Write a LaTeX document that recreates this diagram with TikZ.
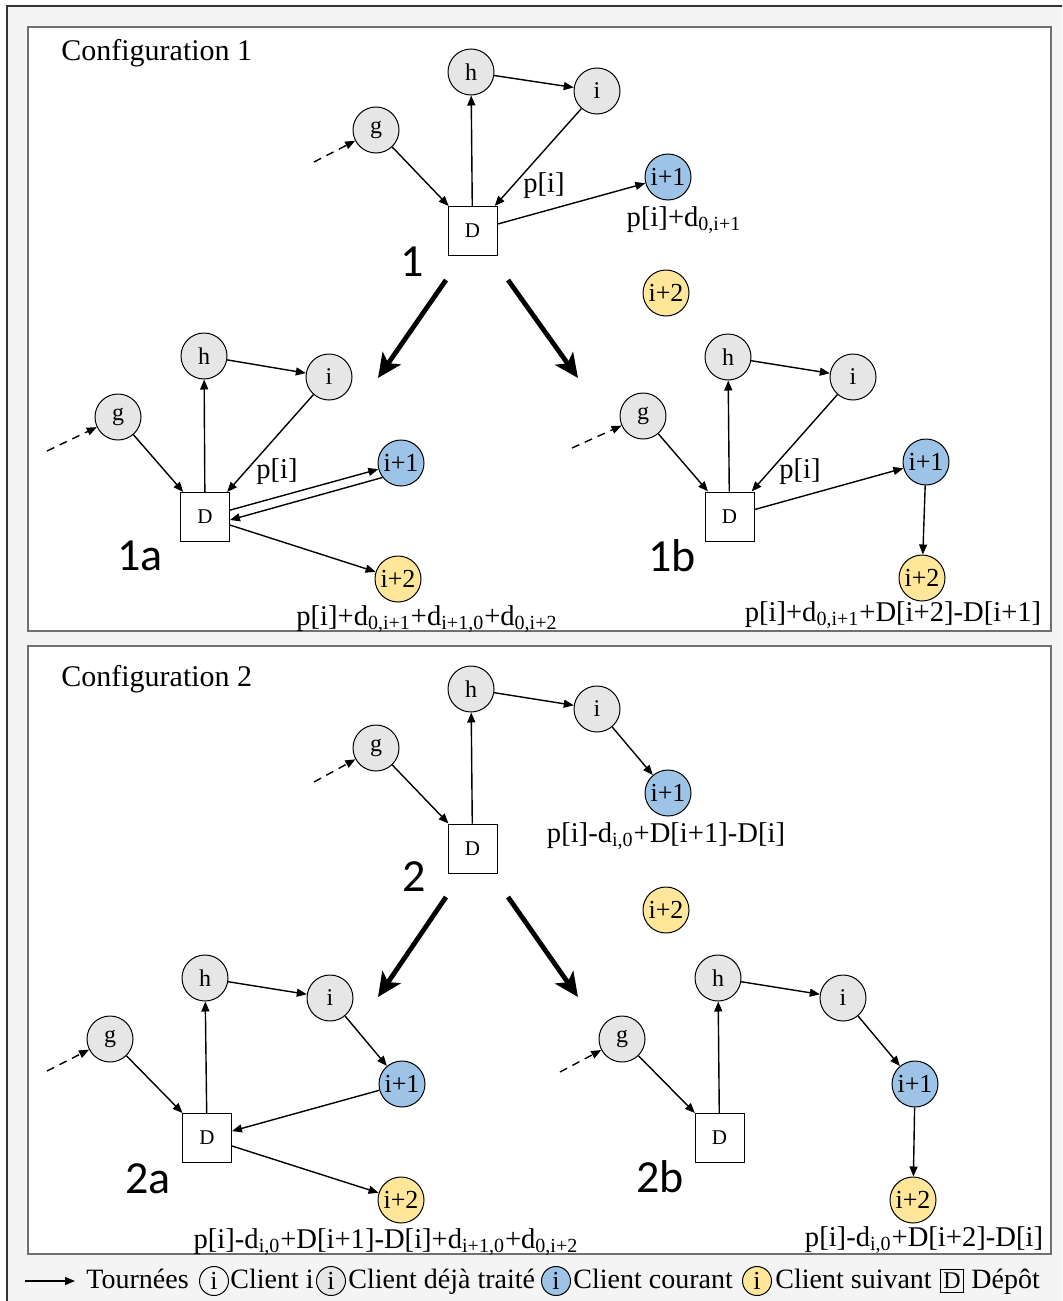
\documentclass[tikz,border=0pt]{standalone}
\usepackage{fontspec}
\setmainfont{Liberation Serif}
\newfontfamily\numfont{Carlito}
\usetikzlibrary{arrows.meta}

\definecolor{visited}{HTML}{E7E6E6}
\definecolor{current}{HTML}{9DC3E6}
\definecolor{nextc}{HTML}{FFE699}
\definecolor{backg}{HTML}{F4F4F4}
\definecolor{frameg}{HTML}{707070}

\tikzset{
  client/.style = {draw, circle, inner sep = 0pt, minimum size = 23pt, line width = .5pt},
  seen/.style = {client, fill = visited, font = \fontsize{12}{14}\selectfont},
  curr/.style = {client, fill = current, font = \fontsize{13}{15}\selectfont},
  nxt/.style = {client, fill = nextc, font = \fontsize{13}{15}\selectfont},
  depot/.style = {draw, fill = white, inner sep = 0pt, minimum size = 24.5pt, line width = .5pt, font = \fontsize{10.5}{12}\selectfont},
  lab/.style = {inner sep = 0pt, font = \fontsize{14.3}{17}\selectfont},
  txt/.style = {inner sep = 0pt, anchor = base west, font = \fontsize{14}{17}\selectfont},
  bignum/.style = {inner sep = 0pt, font = \numfont\fontsize{23}{27}\selectfont},
  key/.style = {draw, circle, inner sep = 0pt, minimum size = 14.5pt, line width = .5pt, font = \fontsize{13}{15}\selectfont},
  tour/.style = {-{Triangle[length = 5pt, width = 4pt]}, line width = .7pt},
  dashtour/.style = {tour, dash pattern = on 4pt off 3pt},
  big/.style = {-{Stealth[length = 12pt, width = 11pt, inset = 3pt]}, line width = 2.4pt}
}

\begin{document}
\begin{tikzpicture}[x = .5pt, y = -.5pt]
    \useasboundingbox (0,0) rectangle (1062,1301);
    \clip (0,0) rectangle (1062,1301);
    \draw [fill = backg, draw = black!80, line width = .6pt] (7,6) rectangle (1090,1330);
    \draw [fill = white, draw = frameg, line width = 1pt] (28,27) rectangle (1051,631);
    \draw [fill = white, draw = frameg, line width = 1pt] (28,646) rectangle (1051,1254);

    \node (c1) at (61,61) [txt, font = \fontsize{15}{18}\selectfont] {Configuration 1};
    \node (c2) at (61,686) [txt, font = \fontsize{15}{18}\selectfont] {Configuration 2};

    \node (1g) at (376,130) [seen] {g};
    \node (1h) at (471,72) [seen] {h};
    \node (1i) at (597,91) [seen] {i};
    \node (1D) at (472.5,231) [depot] {D};
    \node (1n) at (668,177) [curr] {i+1};
    \node (1m) at (666,293) [nxt] {i+2};
    \node (1p) at (544,186) [lab] {p[i]};
    \node (1c) at (684,220) [lab] {p[i]+d\textsubscript{0,i+1}};
    \node (1k) at (412,262) [bignum] {1};
    \coordinate (1s) at (314,162);
    \draw [dashtour] (1s)--(1g);
    \draw [tour] (1g)--(1D);
    \draw [tour] (1D)--(1h);
    \draw [tour] (1h)--(1i);
    \draw [tour] (1i)--(1D);
    \draw [tour] (1D)--(1n);
    \coordinate (1la) at (446,280);
    \coordinate (1lb) at (378,378);
    \coordinate (1ra) at (508,280);
    \coordinate (1rb) at (578,378);
    \draw [big] (1la)--(1lb);
    \draw [big] (1ra)--(1rb);

    \node (ag) at (118,417) [seen] {g};
    \node (ah) at (204,356) [seen] {h};
    \node (ai) at (329,377) [seen] {i};
    \node (aD) at (205,517) [depot] {D};
    \node (an) at (401,463) [curr] {i+1};
    \node (am) at (398,579) [nxt] {i+2};
    \node (ap) at (277,472) [lab] {p[i]};
    \node (ac) at (427,619) [lab] {p[i]+d\textsubscript{0,i+1}+d\textsubscript{i+1,0}+d\textsubscript{0,i+2}};
    \node (ak) at (140,556) [bignum] {1a};
    \coordinate (as) at (47,451);
    \draw [dashtour] (as)--(ag);
    \draw [tour] (ag)--(aD);
    \draw [tour] (aD)--(ah);
    \draw [tour] (ah)--(ai);
    \draw [tour] (ai)--(aD);
    \draw [tour] (aD)--(an);
    \draw [tour] (an.218)--([yshift = -1.5pt]aD.east);
    \draw [tour] (aD)--(am);

    \node (bg) at (643,416) [seen] {g};
    \node (bh) at (728,357) [seen] {h};
    \node (bi) at (853,377) [seen] {i};
    \node (bD) at (729.5,516.5) [depot] {D};
    \node (bn) at (926,462) [curr] {i+1};
    \node (bm) at (922,578) [nxt] {i+2};
    \node (bp) at (800,472) [lab] {p[i]};
    \node (bc) at (893,615) [lab] {p[i]+d\textsubscript{0,i+1}+D[i+2]-D[i+1]};
    \node (bk) at (672,556) [bignum] {1b};
    \coordinate (bs) at (572,448);
    \draw [dashtour] (bs)--(bg);
    \draw [tour] (bg)--(bD);
    \draw [tour] (bD)--(bh);
    \draw [tour] (bh)--(bi);
    \draw [tour] (bi)--(bD);
    \draw [tour] (bD)--(bn);
    \draw [tour] (bn)--(bm);

    \node (2g) at (376,748) [seen] {g};
    \node (2h) at (471,689) [seen] {h};
    \node (2i) at (597,709) [seen] {i};
    \node (2D) at (472.5,848.5) [depot] {D};
    \node (2n) at (668,793) [curr] {i+1};
    \node (2m) at (666,910) [nxt] {i+2};
    \node (2c) at (666,836) [lab] {p[i]-d\textsubscript{i,0}+D[i+1]-D[i]};
    \node (2k) at (414,877) [bignum] {2};
    \coordinate (2s) at (314,782);
    \draw [dashtour] (2s)--(2g);
    \draw [tour] (2g)--(2D);
    \draw [tour] (2D)--(2h);
    \draw [tour] (2h)--(2i);
    \draw [tour] (2i)--(2n);
    \coordinate (2la) at (446,897);
    \coordinate (2lb) at (378,997);
    \coordinate (2ra) at (508,897);
    \coordinate (2rb) at (578,997);
    \draw [big] (2la)--(2lb);
    \draw [big] (2ra)--(2rb);

    \node (dg) at (110,1039) [seen] {g};
    \node (dh) at (205,978) [seen] {h};
    \node (di) at (330,998) [seen] {i};
    \node (dD) at (207,1138) [depot] {D};
    \node (dn) at (402,1084) [curr] {i+1};
    \node (dm) at (401,1200) [nxt] {i+2};
    \node (dc) at (386,1242) [lab] {p[i]-d\textsubscript{i,0}+D[i+1]-D[i]+d\textsubscript{i+1,0}+d\textsubscript{0,i+2}};
    \node (dk) at (148,1179) [bignum] {2a};
    \coordinate (ds) at (47,1071);
    \draw [dashtour] (ds)--(dg);
    \draw [tour] (dg)--(dD);
    \draw [tour] (dD)--(dh);
    \draw [tour] (dh)--(di);
    \draw [tour] (di)--(dn);
    \draw [tour] (dn)--(dD);
    \draw [tour] (dD)--(dm);

    \node (eg) at (622,1039) [seen] {g};
    \node (eh) at (718,978) [seen] {h};
    \node (ei) at (843,998) [seen] {i};
    \node (eD) at (719.5,1138) [depot] {D};
    \node (en) at (915,1084) [curr] {i+1};
    \node (em) at (913,1200) [nxt] {i+2};
    \node (ec) at (924,1240) [lab] {p[i]-d\textsubscript{i,0}+D[i+2]-D[i]};
    \node (ek) at (660,1177) [bignum] {2b};
    \coordinate (es) at (560,1072);
    \draw [dashtour] (es)--(eg);
    \draw [tour] (eg)--(eD);
    \draw [tour] (eD)--(eh);
    \draw [tour] (eh)--(ei);
    \draw [tour] (ei)--(en);
    \draw [tour] (en)--(em);

    \coordinate (ka) at (25,1281);
    \coordinate (kb) at (75,1281);
    \draw [tour] (ka)--(kb);
    \node (kt) at (86,1288) [txt] {Tournées};
    \node (k1) at (214,1281) [key] {i};
    \node (k1t) at (230,1288) [txt] {Client i};
    \node (k2) at (331,1281) [key, fill = visited] {i};
    \node (k2t) at (348,1288) [txt] {Client déjà traité};
    \node (k3) at (556,1281) [key, fill = current] {i};
    \node (k3t) at (573,1288) [txt] {Client courant};
    \node (k4) at (757,1281) [key, fill = nextc] {i};
    \node (k4t) at (775,1288) [txt] {Client suivant};
    \node (k5) at (952,1281) [draw, inner sep = 0pt, minimum size = 11.5pt, line width = .5pt, font = \fontsize{12}{14}\selectfont] {D};
    \node (k5t) at (971,1288) [txt] {Dépôt};
  \end{tikzpicture}
\end{document}
